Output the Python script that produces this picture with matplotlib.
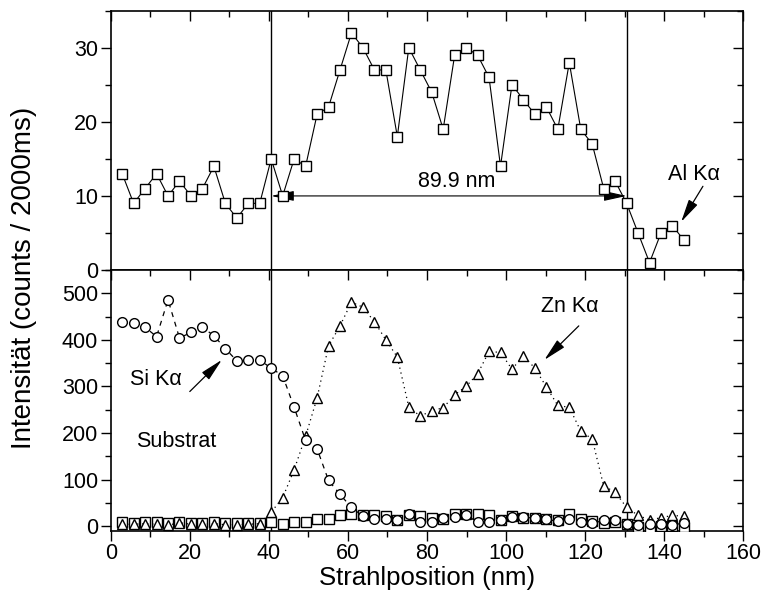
import numpy as np
import matplotlib
matplotlib.use("Agg")
import matplotlib.pyplot as plt
from matplotlib.ticker import MultipleLocator

plt.rcParams['font.family'] = ['Liberation Sans', 'DejaVu Sans']

# Beam positions (nm), 2.9 nm step
position = np.round(2.9 * np.arange(1, 51), 1)

# Al K-alpha line scan (upper panel)
al_counts = [13, 9, 11, 13, 10, 12, 10, 11, 14, 9,
             7, 9, 9, 15, 10, 15, 14, 21, 22, 27,
             32, 30, 27, 27, 18, 30, 27, 24, 19, 29,
             30, 29, 26, 14, 25, 23, 21, 22, 19, 28,
             19, 17, 11, 12, 9, 5, 1, 5, 6, 4]

# Si K-alpha (lower panel)
si_counts = [439, 436, 427, 407, 486, 404, 416, 427, 409, 381,
             355, 357, 357, 339, 323, 255, 184, 166, 98, 68,
             40, 21, 16, 16, 13, 25, 9, 9, 18, 20,
             23, 9, 9, 14, 20, 19, 17, 15, 10, 16,
             9, 6, 12, 12, 5, 2, 4, 5, 3, 6]

# Zn K-alpha (lower panel)
zn_counts = [4, 4, 5, 4, 2, 7, 4, 4, 5, 3,
             3, 4, 5, 30, 61, 121, 193, 275, 387, 430,
             481, 470, 439, 400, 363, 256, 236, 248, 254, 282,
             300, 327, 375, 373, 337, 366, 339, 299, 259, 255,
             204, 187, 86, 73, 40, 23, 13, 18, 23, 21]

# Al signal on the lower-panel scale
al_low = [8, 7, 9, 8, 7, 8, 7, 7, 9, 7,
          7, 7, 7, 9, 5, 9, 9, 16, 16, 23,
          26, 23, 23, 21, 14, 23, 21, 18, 16, 26,
          27, 27, 23, 12, 21, 18, 18, 16, 14, 25,
          16, 11, 7, 9, 4, -1, -5, 0, 1, -2]

# Layer boundaries (nm) and layer thickness label
edge_left = 40.6
edge_right = 130.5
thickness_label = "89.9 nm"

TICK_FS = 15.5
NOTE_FS = 15.5

fig = plt.figure(figsize=(7.63, 5.97), dpi=100)
ax_top = fig.add_axes([0.1451, 0.5477, 0.8290, 0.4344])
ax_bot = fig.add_axes([0.1451, 0.1110, 0.8290, 0.4367], sharex=ax_top)

mk = dict(markerfacecolor='white', markeredgecolor='black', markeredgewidth=1.0)

# Upper panel
ax_top.plot(position, al_counts, '-', color='black', lw=0.8,
            marker='s', markersize=7.2, **mk, zorder=3)
ax_top.set_ylim(0, 35)

# Lower panel
ax_bot.plot(position, al_low, linestyle='none', marker='s', markersize=7.0, **mk, zorder=3)
ax_bot.plot(position, zn_counts, linestyle=(0, (1, 3)), color='black', lw=0.9,
            marker='^', markersize=7.8, **mk, zorder=4)
ax_bot.plot(position, si_counts, linestyle=(0, (4, 4)), color='black', lw=0.9,
            marker='o', markersize=7.0, **mk, zorder=5)
ax_bot.set_ylim(-10, 550)
ax_bot.set_xlim(0, 160)

for ax in (ax_top, ax_bot):
    ax.axvline(edge_left, color='black', lw=1.0, zorder=2)
    ax.axvline(edge_right, color='black', lw=1.0, zorder=2)
    for s in ax.spines.values():
        s.set_linewidth(1.2)
    ax.xaxis.set_major_locator(MultipleLocator(20))
    ax.xaxis.set_minor_locator(MultipleLocator(10))

ax_top.yaxis.set_major_locator(MultipleLocator(10))
ax_top.yaxis.set_minor_locator(MultipleLocator(5))
ax_bot.yaxis.set_major_locator(MultipleLocator(100))
ax_bot.yaxis.set_minor_locator(MultipleLocator(50))
ax_bot.set_yticks([0, 100, 200, 300, 400, 500])

# Tick styling: outward on left/bottom, inward on top/right
for ax in (ax_top, ax_bot):
    ax.tick_params(axis='y', which='both', left=True, right=True,
                   labelsize=TICK_FS, pad=2)
    ax.tick_params(axis='both', which='major', length=7, width=1.0)
    ax.tick_params(axis='both', which='minor', length=4, width=1.0)
    ax.yaxis.set_tick_params(which='both', direction='out')
ax_top.tick_params(axis='x', which='both', top=True, bottom=False,
                   labelbottom=False, direction='in')
ax_bot.tick_params(axis='x', which='both', top=True, bottom=True,
                   labelsize=TICK_FS, pad=2)
ax_bot.xaxis.set_tick_params(which='both', direction='out')
for ax in (ax_top, ax_bot):
    for t in ax.yaxis.get_major_ticks() + ax.yaxis.get_minor_ticks():
        t.tick2line.set_marker(matplotlib.lines.TICKLEFT)
for t in ax_bot.xaxis.get_major_ticks() + ax_bot.xaxis.get_minor_ticks():
    t.tick2line.set_marker(matplotlib.lines.TICKDOWN)

ax_bot.set_xlabel("Strahlposition (nm)", fontsize=18.5, labelpad=1)
fig.text(0.032, 0.535, "Intensität (counts / 2000ms)", rotation=90,
         fontsize=20, ha='center', va='center')

# Thickness arrow and label
ax_top.annotate('', xy=(edge_left, 10), xytext=(edge_right, 10),
                arrowprops=dict(arrowstyle='<|-|>,head_length=1.0,head_width=0.22',
                                color='black', lw=0.8, shrinkA=0, shrinkB=0,
                                mutation_scale=14), zorder=2)
ax_top.text(87.5, 10.5, thickness_label, fontsize=NOTE_FS, ha='center', va='bottom')

# Line labels with pointer arrows
arrow_kw = dict(arrowstyle='-|>,head_length=1.0,head_width=0.22', color='black',
                lw=0.9, shrinkA=0, shrinkB=0, mutation_scale=14)
ax_top.text(147.6, 12.9, 'Al Kα', fontsize=NOTE_FS, ha='center', va='center')
ax_top.annotate('', xy=(144.3, 6.5), xytext=(149.8, 11.3), arrowprops=arrow_kw)
ax_bot.text(11.3, 314, 'Si Kα', fontsize=NOTE_FS, ha='center', va='center')
ax_bot.annotate('', xy=(28.1, 357), xytext=(20, 289), arrowprops=arrow_kw)
ax_bot.text(116.2, 471, 'Zn Kα', fontsize=NOTE_FS, ha='center', va='center')
ax_bot.annotate('', xy=(109.7, 357), xytext=(118.4, 430), arrowprops=arrow_kw)
ax_bot.text(6.3, 182, "Substrat", fontsize=NOTE_FS, ha='left', va='center')

fig.savefig("out.png", dpi=100)
